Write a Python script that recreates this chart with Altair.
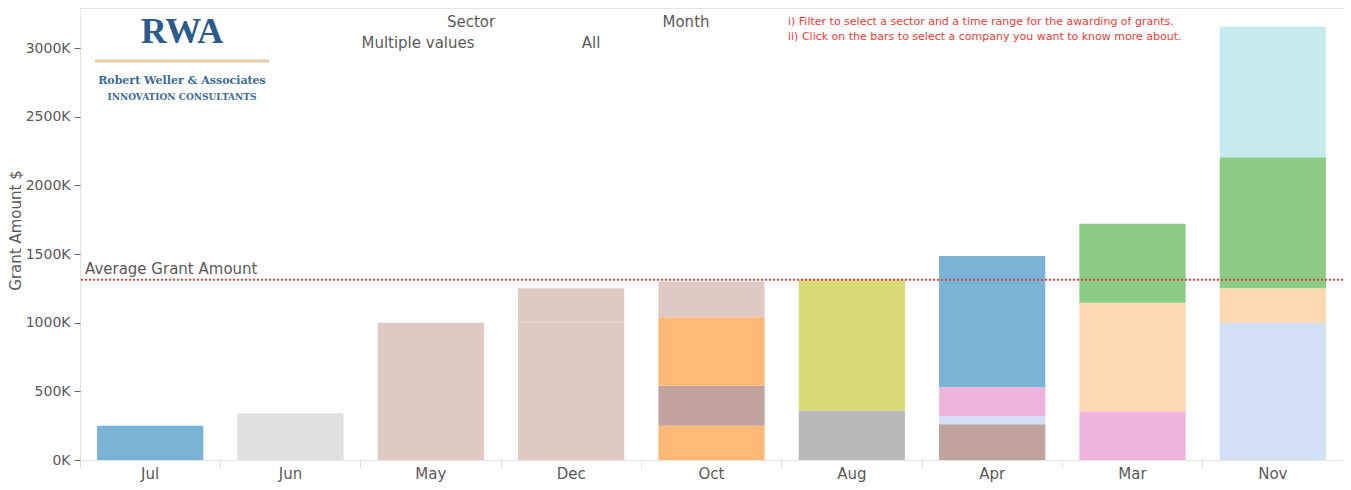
import altair as alt
import pandas as pd

# ---- data (values in $) ----
months = ["Jul", "Jun", "May", "Dec", "Oct", "Aug", "Apr", "Mar", "Nov"]

# stacked segments per month, bottom to top: (company, amount)
seg_month = ["Jul", "Jun", "May", "Dec", "Dec",
             "Oct", "Oct", "Oct", "Oct",
             "Aug", "Aug",
             "Apr", "Apr", "Apr", "Apr",
             "Mar", "Mar", "Mar",
             "Nov", "Nov", "Nov", "Nov"]
seg_company = ["C01", "C02", "C03", "C03", "C03",
               "C04", "C05", "C04", "C03",
               "C06", "C07",
               "C05", "C08", "C09", "C01",
               "C09", "C10", "C11",
               "C08", "C10", "C11", "C12"]
seg_value = [250000, 340000, 1000000, 1000000, 250000,
             250000, 290000, 500000, 260000,
             360000, 955000,
             260000, 60000, 210000, 955000,
             355000, 790000, 575000,
             1000000, 250000, 955000, 950000]

companies = ["C01", "C02", "C03", "C04", "C05", "C06",
             "C07", "C08", "C09", "C10", "C11", "C12"]
company_colors = ["#79b3d6", "#e0e0e0", "#dfcac3", "#ffb977", "#bfa39c", "#bababa",
                  "#dadb76", "#d1e1f3", "#efb4dd", "#fed9b2", "#8acc85", "#c7eaf0"]

df = pd.DataFrame({
    "month": seg_month,
    "company": seg_company,
    "value": seg_value,
    "seg": list(range(len(seg_value))),
})

W, H = 1263, 452
FONT = "DejaVu Sans"
GREY = "#5a5a5a"

base = alt.Chart(df)

bars = base.mark_bar().encode(
    x=alt.X("month:N", sort=months, title=None,
            scale=alt.Scale(paddingInner=0.243, paddingOuter=0.1215),
            axis=alt.Axis(domain=False, labelAngle=0, labelFontSize=15, labelColor=GREY,
                          labelFont=FONT, labelPadding=-1, tickSize=7, tickColor="#dddddd",
                          bandPosition=-0.1605)),
    y=alt.Y("value:Q", stack="zero",
            scale=alt.Scale(domain=[0, 3292000], nice=False, zero=True),
            axis=alt.Axis(values=[0, 500000, 1000000, 1500000, 2000000, 2500000, 3000000],
                          labelExpr="(datum.value/1000) + 'K'", grid=False, domain=False,
                          tickSize=6, tickColor="#666666", labelFontSize=14, labelColor=GREY,
                          labelFont=FONT, labelPadding=4,
                          title="Grant Amount $", titleFontSize=15, titleFont=FONT,
                          titleFontWeight="normal", titleColor=GREY, titleAngle=-90,
                          titleX=-65, titleY=222, titleAlign="center", titleBaseline="middle")),
    color=alt.Color("company:N", scale=alt.Scale(domain=companies, range=company_colors),
                    legend=None),
    order=alt.Order("seg:Q"),
)

avg = base.transform_aggregate(
    total="sum(value)", groupby=["month"]
).transform_aggregate(
    avg="mean(total)"
)

avg_rule = avg.mark_rule(color="#e8413c", strokeWidth=2, strokeDash=[2, 2]).encode(
    y=alt.Y("avg:Q")
)
avg_text = avg.mark_text(align="left", baseline="bottom", dx=0, dy=-3,
                         fontSize=15, font=FONT, color=GREY).encode(
    y=alt.Y("avg:Q"), x=alt.value(5), text=alt.value("Average Grant Amount")
)


def label(txt, x, y, size, color, font=FONT, align="center", weight="normal"):
    return alt.Chart(pd.DataFrame({"t": [txt]})).mark_text(
        align=align, baseline="middle", fontSize=size, font=font, color=color,
        fontWeight=weight
    ).encode(x=alt.value(x), y=alt.value(y), text="t:N")


anno = [
    label("Sector", 391, 14, 15, GREY),
    label("Multiple values", 338, 35, 15, GREY),
    label("Month", 606, 14, 15, GREY),
    label("All", 511, 35, 15, GREY),
    label("i) Filter to select a sector and a time range for the awarding of grants.",
          708, 14, 11, "#f03a36", align="left"),
    label("ii) Click on the bars to select a company you want to know more about.",
          708, 29, 11, "#f03a36", align="left"),
    label("RWA", 102, 24, 36, "#2b5b8c", font="Liberation Serif", weight="bold"),
    label("Robert Weller & Associates", 102, 73, 11, "#3a6a98", font="DejaVu Serif",
          weight="bold"),
    label("INNOVATION CONSULTANTS", 102, 89, 9, "#3a6a98", font="DejaVu Serif",
          weight="bold"),
]

tan_line = alt.Chart(pd.DataFrame({"a": [0]})).mark_rule(
    color="#e6cfa8", strokeWidth=3
).encode(x=alt.value(15), x2=alt.value(189), y=alt.value(53))

chart = alt.layer(bars, avg_rule, avg_text, tan_line, *anno).properties(
    width=W, height=H,
    autosize=alt.AutoSizeParams(type="none"),
    padding={"left": 72, "top": 0, "right": 0, "bottom": 30},
).configure_view(stroke="#e4e4e4", strokeWidth=1)

chart.save("out.html", embed_options={"renderer": "svg", "actions": False})
